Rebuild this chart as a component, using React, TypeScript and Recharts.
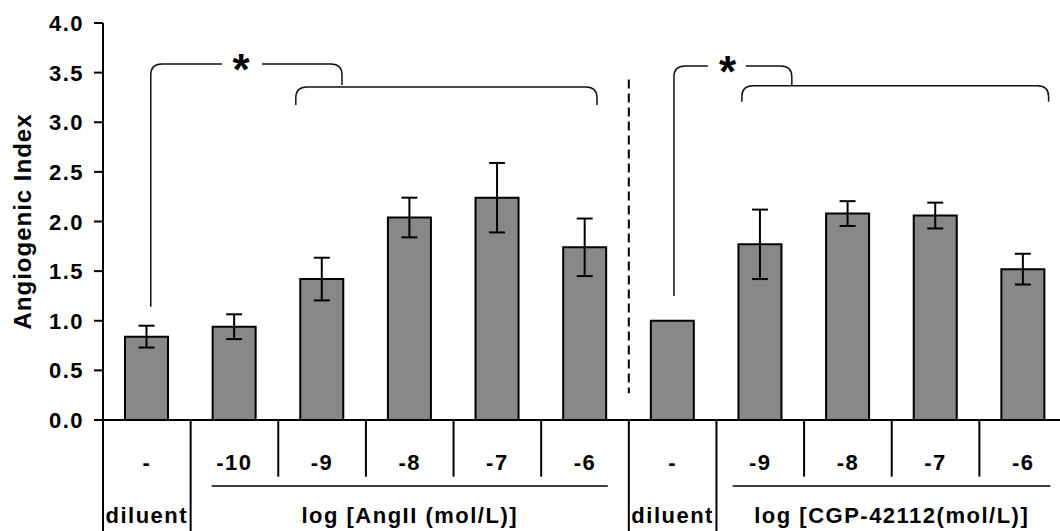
import React from 'react';
import { BarChart, Bar, XAxis, YAxis, ErrorBar, ReferenceLine, ReferenceDot } from 'recharts';

const doseLabels = ['-', '-10', '-9', '-8', '-7', '-6', '-', '-9', '-8', '-7', '-6'];
const indexValues = [0.84, 0.94, 1.42, 2.04, 2.24, 1.74, 1.0, 1.77, 2.08, 2.06, 1.52];
const indexErrors = [0.11, 0.125, 0.215, 0.2, 0.35, 0.29, 0, 0.35, 0.125, 0.13, 0.155];
const groupLabels = ['diluent', 'log [AngII (mol/L)]', 'diluent', 'log [CGP-42112(mol/L)]'];
const groupCenters = [0, 3, 6, 8.5];
const yTicks = [0, 0.5, 1, 1.5, 2, 2.5, 3, 3.5, 4];

// annotation layout (x in category index units, y in index units)
const fullSeps = [-0.5, 0.5, 5.5, 6.5];
const shortSeps = [1.5, 2.5, 3.5, 4.5, 7.5, 8.5, 9.5];
const underlines = [[0.74, 5.26], [6.685, 10.31]];
const brackets = [
  { from: [0.045, 1.14], to: [2.227, 3.375], rise: 21, gap: [0.477, 20] },
  { from: [1.7, 3.174], to: [5.137, 3.174], rise: 18 },
  { from: [6.015, 1.249], to: [7.36, 3.375], rise: 19, gap: [0.449, 19] },
  { from: [6.79, 3.207], to: [10.29, 3.207], rise: 16 },
];
const stars = [[1.075, 3.622], [6.626, 3.602]];

const rows = indexValues.map((v, i) => ({ x: i, value: v, err: indexErrors[i] }));

const font = '"Liberation Sans", Arial, sans-serif';
const txt: React.CSSProperties = { fontFamily: font, fontWeight: 700, fontSize: 22, letterSpacing: 1.5, fill: '#000' };

const YTick = (p: any) => (
  <text x={p.x} y={p.y + 8} textAnchor="end" style={txt}>
    {Number(p.payload.value).toFixed(1)}
  </text>
);

const DoseTick = (p: any) => (
  <text x={p.x} y={p.y + 49.5} textAnchor="middle" style={txt}>
    {doseLabels[Math.round(p.payload.value)]}
  </text>
);

const GroupTick = (p: any) => (
  <text x={p.x} y={p.y + 53} textAnchor="middle" style={txt}>
    {groupLabels[groupCenters.indexOf(p.payload.value)]}
  </text>
);

const bracketShape = (rise: number, gap?: number[]) => (p: any) => {
  const { x1, y1, x2, y2 } = p;
  const top = Math.min(y1, y2) - rise;
  const r = 11;
  const left = `M${x1},${y1} L${x1},${top + r} Q${x1},${top} ${x1 + r},${top}`;
  const right = `M${x2},${y2} L${x2},${top + r} Q${x2},${top} ${x2 - r},${top}`;
  let mid = `M${x1 + r},${top} L${x2 - r},${top}`;
  if (gap) {
    const c = x1 + (x2 - x1) * gap[0];
    mid = `M${x1 + r},${top} L${c - gap[1]},${top} M${c + gap[1]},${top} L${x2 - r},${top}`;
  }
  return <path d={`${left} ${mid} ${right}`} fill="none" stroke="#111" strokeWidth={1.5} />;
};

const StarShape = (p: any) => (
  <text x={p.cx} y={p.cy + 24} textAnchor="middle" style={{ ...txt, fontSize: 44, letterSpacing: 0 }}>
    *
  </text>
);

const App: React.FC = () => {
  return (
    <div style={{ position: 'absolute', left: 0, top: 0, width: 1060, height: 531, overflow: 'hidden', background: '#fff' }}>
      <BarChart width={1075} height={531} data={rows} margin={{ top: 23, right: 8, bottom: 0, left: 3 }}>
        <XAxis
          type="number"
          dataKey="x"
          domain={[-0.5, 10.5]}
          allowDataOverflow
          ticks={rows.map((r) => r.x)}
          interval={0}
          tickLine={false}
          tickSize={0}
          tickMargin={0}
          axisLine={{ stroke: '#000', strokeWidth: 2 }}
          height={50}
          tick={DoseTick}
        />
        <XAxis
          xAxisId="group"
          type="number"
          dataKey="x"
          domain={[-0.5, 10.5]}
          allowDataOverflow
          ticks={groupCenters}
          interval={0}
          tickLine={false}
          tickSize={0}
          tickMargin={0}
          axisLine={false}
          height={61}
          tick={GroupTick}
        />
        <YAxis
          domain={[0, 4]}
          ticks={yTicks}
          interval={0}
          width={100}
          tickSize={9}
          tickMargin={10}
          axisLine={{ stroke: '#000', strokeWidth: 2 }}
          tickLine={{ stroke: '#000', strokeWidth: 2 }}
          tick={YTick}
        />
        <text
          transform="translate(30.5,221.5) rotate(-90)"
          textAnchor="middle"
          style={{ ...txt, fontSize: 24, letterSpacing: 1 }}
        >
          Angiogenic Index
        </text>
        <Bar dataKey="value" fill="#888888" stroke="#000" strokeWidth={2} barSize={43} isAnimationActive={false}>
          <ErrorBar dataKey="err" width={8} stroke="#000" strokeWidth={2} isAnimationActive={false} />
        </Bar>

        {fullSeps.map((x) => (
          <ReferenceLine key={`f${x}`} segment={[{ x, y: 0 }, { x, y: -1.15 }]} stroke="#000" strokeWidth={2} ifOverflow="visible" />
        ))}
        {shortSeps.map((x) => (
          <ReferenceLine key={`s${x}`} segment={[{ x, y: 0 }, { x, y: -0.571 }]} stroke="#000" strokeWidth={2} ifOverflow="visible" />
        ))}
        {underlines.map(([a, b]) => (
          <ReferenceLine key={`u${a}`} segment={[{ x: a, y: -0.665 }, { x: b, y: -0.665 }]} stroke="#000" strokeWidth={1.5} ifOverflow="visible" />
        ))}

        <ReferenceLine
          segment={[{ x: 5.5, y: 3.43 }, { x: 5.5, y: 0.27 }]}
          stroke="#000"
          strokeWidth={2}
          strokeDasharray="9 5"
          ifOverflow="visible"
        />
        {brackets.map((b, i) => (
          <ReferenceLine
            key={`b${i}`}
            segment={[{ x: b.from[0], y: b.from[1] }, { x: b.to[0], y: b.to[1] }]}
            ifOverflow="visible"
            shape={bracketShape(b.rise, b.gap)}
          />
        ))}
        {stars.map(([x, y], i) => (
          <ReferenceDot key={`st${i}`} x={x} y={y} r={0} ifOverflow="visible" shape={StarShape} />
        ))}
      </BarChart>
    </div>
  );
};

export default App;
